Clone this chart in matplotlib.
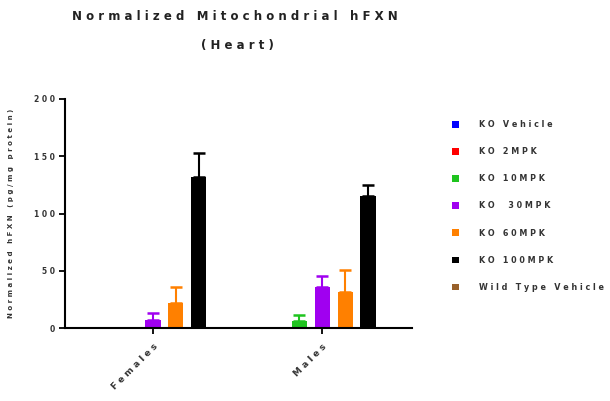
import numpy as np
import matplotlib
matplotlib.use("Agg")
import matplotlib.pyplot as plt

groups = ["Females", "Males"]
series = ["KO Vehicle", "KO 2MPK", "KO 10MPK", "KO  30MPK", "KO 60MPK", "KO 100MPK", "Wild Type Vehicle"]
colors = ["#0000ff", "#ff0000", "#1fc41f", "#a000f0", "#ff8000", "#000000", "#98602a"]
# mean values per series, [Females, Males]; NaN = no bar
means = [
    [np.nan, np.nan],
    [np.nan, np.nan],
    [np.nan, 6],
    [7, 36],
    [22, 31.5],
    [132, 115],
    [np.nan, np.nan],
]
errs = [
    [0, 0],
    [0, 0],
    [0, 5],
    [6.5, 9],
    [14, 19.5],
    [21, 10],
    [0, 0],
]
yticks = [0, 50, 100, 150, 200]


def spaced(s):
    # the source export draws text with wide letter spacing
    return " ".join(s)


fig = plt.figure(figsize=(6.1, 4.01), dpi=100)
ax = fig.add_axes([65 / 610, 1 - 328 / 401, 347 / 610, 229 / 401])

x = np.arange(len(groups))
step = 0.135
width = 0.09
for i, (name, c) in enumerate(zip(series, colors)):
    pos = x + (i - 3) * step
    m = np.array(means[i], dtype=float)
    ax.bar(pos, m, width=width, color=c, label=spaced(name), zorder=2)
    ok = ~np.isnan(m)
    if ok.any():
        e = np.array(errs[i], dtype=float)
        ax.errorbar(pos[ok], m[ok], yerr=[np.zeros(ok.sum()), e[ok]], fmt="none",
                    ecolor=c, elinewidth=1.5, capsize=4, capthick=1.8, zorder=1)

ax.set_xlim(-0.52, 1.53)
ax.set_ylim(0, 200)
ax.set_yticks(yticks)
ax.set_yticklabels([spaced(str(t)) for t in yticks], fontsize=5.5, fontweight="bold", color="#333333")
ax.set_xticks(x)
ax.set_xticklabels([spaced(g) for g in groups], rotation=45, ha="right", rotation_mode="anchor",
                   fontsize=6.5, fontweight="bold", color="#333333")
ax.tick_params(axis="both", direction="out", length=4, width=1.3)
ax.tick_params(axis="x", pad=6)
for s in ["top", "right"]:
    ax.spines[s].set_visible(False)
for s in ["left", "bottom"]:
    ax.spines[s].set_linewidth(1.5)

ax.set_ylabel(spaced("Normalized hFXN (pg/mg protein)"), fontsize=5, fontweight="bold",
              color="#333333", labelpad=14)

fig.text(235 / 610, 1 - 16 / 401, spaced("Normalized Mitochondrial hFXN"), ha="center", va="center",
         fontsize=8.5, fontweight="bold", color="#222222")
fig.text(237 / 610, 1 - 46 / 401, spaced("(Heart)"), ha="center", va="center",
         fontsize=8.5, fontweight="bold", color="#222222")

leg = ax.legend(loc="upper left", bbox_to_anchor=(452 / 610, 1 - 120 / 401), bbox_transform=fig.transFigure,
                frameon=False, fontsize=5.8, handlelength=0.9, handleheight=0.9, handletextpad=2.4,
                labelspacing=2.25, borderaxespad=0, borderpad=0)
for t in leg.get_texts():
    t.set_fontweight("bold")
    t.set_color("#333333")

fig.savefig("out.png", dpi=100)
